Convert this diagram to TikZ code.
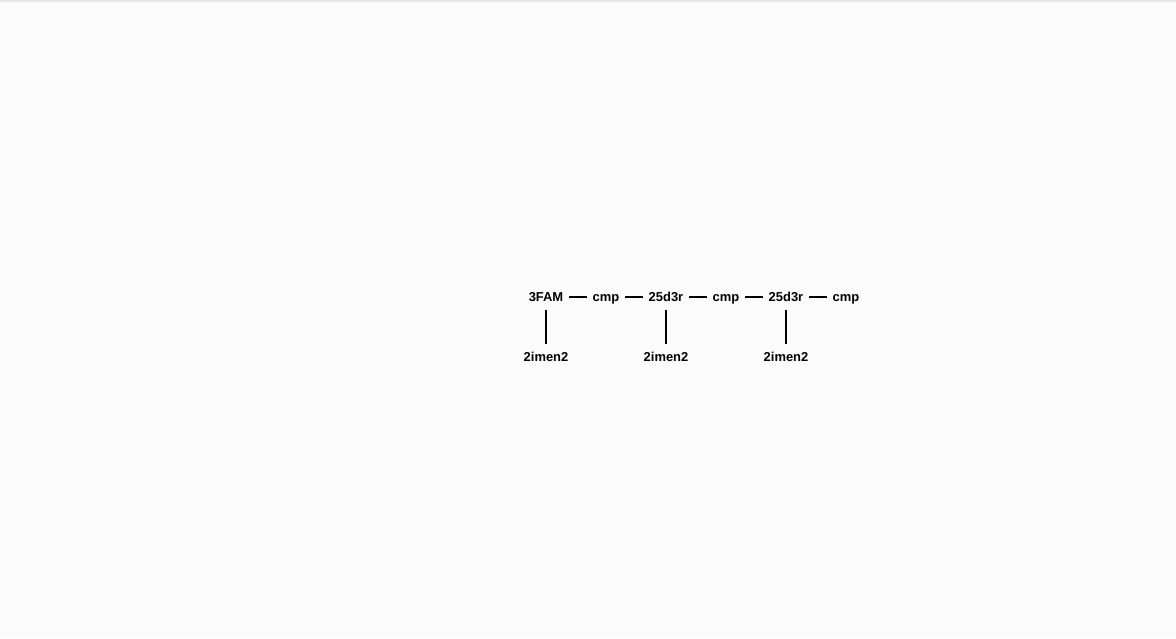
\documentclass[tikz,border=0pt]{standalone}
\usepackage{fontspec}
\setmainfont{Liberation Sans}
\usepackage{xcolor}
\usetikzlibrary{calc}
\definecolor{bggray}{HTML}{FBFBFB}
\definecolor{edgegray}{HTML}{E6E6EA}
\tikzset{
  res/.style = {inner xsep=0.14cm, inner ysep=0pt, minimum height=0.64cm,
    text height=0.23cm, text depth=0pt, font=\fontsize{9.2}{11}\selectfont\bfseries},
  bond/.style = {line width=1.4pt, black},
}

\begin{document}
\begin{tikzpicture}
			\def\dx{1.5};
			\def\xo{13.65};
			\def\yo{8.525};
			\def\yb{7.025};

			\fill[bggray] (0,0) rectangle (29.4,15.95);
			\fill[edgegray] (0,15.95) rectangle (29.4,15.9);
			\useasboundingbox (0,0) rectangle (29.4,15.95);

			\node[res] (fam) at (\xo,\yo) {3FAM};
			\node[res] (cmpA) at (\xo+\dx,\yo) {cmp};
			\node[res] (rA) at (\xo+2*\dx,\yo) {25d3r};
			\node[res] (cmpB) at (\xo+3*\dx,\yo) {cmp};
			\node[res] (rB) at (\xo+4*\dx,\yo) {25d3r};
			\node[res] (cmpC) at (\xo+5*\dx,\yo) {cmp};

			\node[res] (imenA) at (\xo,\yb) {2imen2};
			\node[res] (imenB) at (\xo+2*\dx,\yb) {2imen2};
			\node[res] (imenC) at (\xo+4*\dx,\yb) {2imen2};

			\draw[bond] (fam) -- (cmpA);
			\draw[bond] (cmpA) -- (rA);
			\draw[bond] (rA) -- (cmpB);
			\draw[bond] (cmpB) -- (rB);
			\draw[bond] (rB) -- (cmpC);

			\draw[bond] (fam) -- (imenA);
			\draw[bond] (rA) -- (imenB);
			\draw[bond] (rB) -- (imenC);
		\end{tikzpicture}
\end{document}
